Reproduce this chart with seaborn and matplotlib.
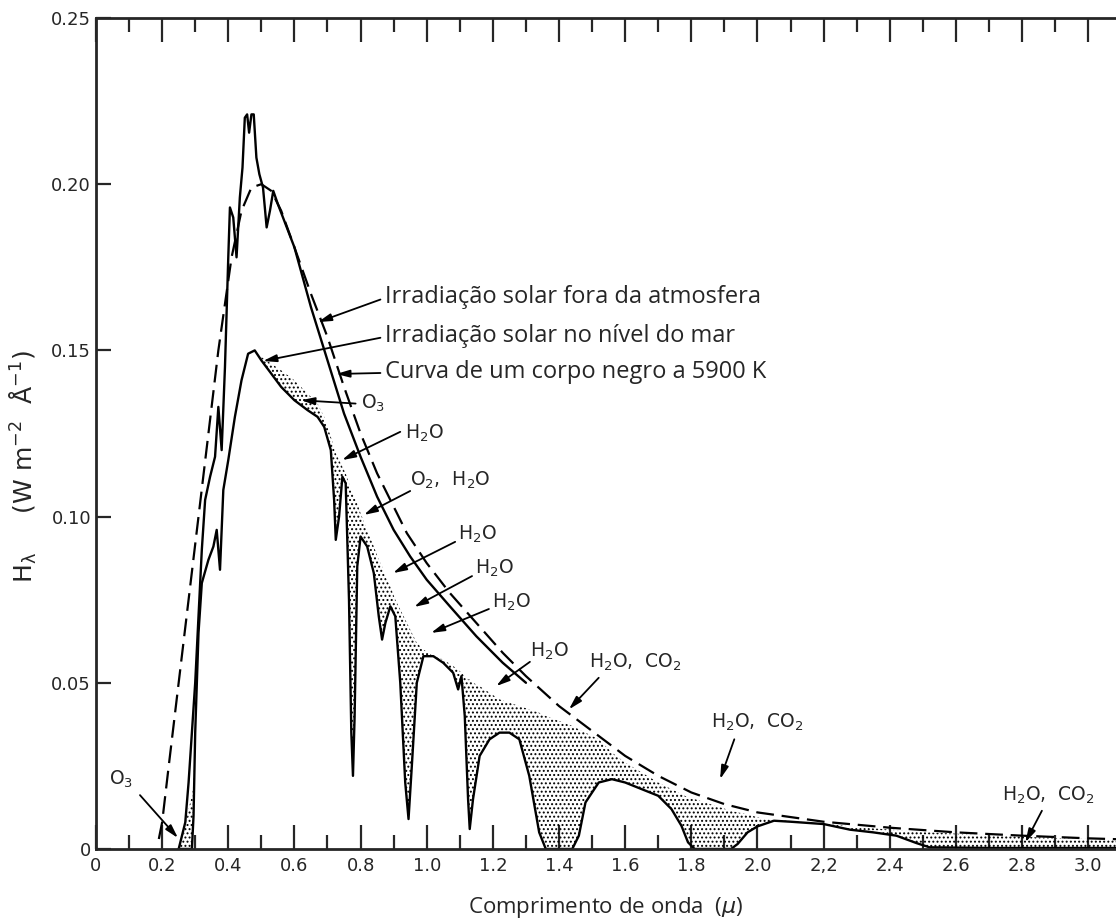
import matplotlib
matplotlib.use("Agg")
import matplotlib.pyplot as plt
import seaborn as sns
import numpy as np

# ---- valeurs (micron, W m-2 A-1) ----
# corps noir 5900 K (tirets)
bb_x = [0.19, 0.20, 0.22, 0.25, 0.28, 0.31, 0.34, 0.37, 0.41, 0.44, 0.47, 0.50,
        0.53, 0.56, 0.60, 0.65, 0.70, 0.75, 0.80, 0.85, 0.94, 1.00, 1.07, 1.15,
        1.23, 1.30, 1.40, 1.52, 1.60, 1.70, 1.80, 1.90, 2.00, 2.20, 2.40, 2.60,
        2.80, 3.00, 3.10]
bb_y = [0.003, 0.008, 0.025, 0.050, 0.075, 0.100, 0.125, 0.150, 0.178, 0.192,
        0.199, 0.200, 0.198, 0.192, 0.181, 0.167, 0.154, 0.139, 0.125, 0.113,
        0.095, 0.086, 0.077, 0.068, 0.059, 0.052, 0.043, 0.034, 0.028, 0.022,
        0.017, 0.0135, 0.0110, 0.0082, 0.0064, 0.0050, 0.0040, 0.0032, 0.0029]

# irradiation hors atmosphère (trait plein)
ext_x = [0.25, 0.27, 0.28, 0.29, 0.30, 0.31, 0.32, 0.33, 0.345, 0.36, 0.37,
         0.38, 0.39, 0.40, 0.405, 0.415, 0.425, 0.435, 0.443, 0.45, 0.457,
         0.463, 0.47, 0.477, 0.485, 0.494, 0.505, 0.516, 0.526, 0.536, 0.55,
         0.60, 0.65, 0.70, 0.75, 0.80, 0.85, 0.90, 0.95, 1.00, 1.07, 1.15,
         1.23, 1.30]
ext_y = [0.0, 0.008, 0.02, 0.035, 0.05, 0.07, 0.09, 0.105, 0.112, 0.118, 0.133,
         0.12, 0.145, 0.178, 0.193, 0.19, 0.178, 0.196, 0.205, 0.22, 0.221,
         0.2155, 0.221, 0.221, 0.208, 0.203, 0.199, 0.187, 0.192, 0.198, 0.194,
         0.181, 0.163, 0.147, 0.131, 0.118, 0.106, 0.096, 0.088, 0.081, 0.073,
         0.064, 0.056, 0.050]

# irradiation au niveau de la mer (trait plein inférieur)
sea_x = [0.25, 0.26, 0.27, 0.28, 0.29, 0.295, 0.30, 0.31, 0.32, 0.34, 0.355,
         0.365, 0.375, 0.385, 0.40, 0.42, 0.44, 0.46, 0.48, 0.50, 0.53, 0.56,
         0.60, 0.64, 0.67, 0.69, 0.71, 0.72, 0.725, 0.735, 0.745, 0.755, 0.765,
         0.772, 0.777, 0.782, 0.79, 0.80, 0.82, 0.84, 0.855, 0.865, 0.875,
         0.89, 0.905, 0.92, 0.935, 0.945, 0.955, 0.97, 0.99, 1.02, 1.05, 1.08,
         1.095, 1.105, 1.115, 1.125, 1.13, 1.14, 1.16, 1.19, 1.22, 1.25, 1.28,
         1.31, 1.34, 1.36, 1.44, 1.46, 1.48, 1.52, 1.56, 1.60, 1.65, 1.70,
         1.74, 1.77, 1.79, 1.81, 1.92, 1.94, 1.97, 2.00, 2.05, 2.10, 2.20,
         2.28, 2.35, 2.42, 2.48, 2.52, 2.70, 2.90, 3.10]
sea_y = [0.0, 0.0, 0.0, 0.0, 0.0, 0.01, 0.035, 0.065, 0.08, 0.087, 0.091,
         0.096, 0.084, 0.108, 0.117, 0.13, 0.141, 0.149, 0.150, 0.147, 0.143,
         0.139, 0.135, 0.132, 0.130, 0.127, 0.120, 0.105, 0.093, 0.100, 0.112,
         0.110, 0.075, 0.035, 0.022, 0.040, 0.085, 0.094, 0.091, 0.083, 0.070,
         0.063, 0.068, 0.073, 0.070, 0.050, 0.020, 0.009, 0.025, 0.050, 0.058,
         0.058, 0.056, 0.053, 0.048, 0.052, 0.040, 0.015, 0.006, 0.015, 0.028,
         0.033, 0.035, 0.035, 0.033, 0.022, 0.005, 0.0, 0.0, 0.004, 0.014,
         0.020, 0.021, 0.020, 0.018, 0.016, 0.012, 0.007, 0.002, 0.0, 0.0,
         0.0015, 0.005, 0.0068, 0.0085, 0.0082, 0.0075, 0.0058, 0.005, 0.004,
         0.0018, 0.0005, 0.0003, 0.0003, 0.0003]
# limite haute de la zone pointillée (absorption), mêmes abscisses que sea_x
abs_top = [0.0, 0.003, 0.007, 0.012, 0.016, 0.02, 0.035, 0.065, 0.08, 0.087,
           0.091, 0.096, 0.084, 0.108, 0.117, 0.13, 0.141, 0.149, 0.150, 0.148,
           0.146, 0.144, 0.141, 0.137, 0.134, 0.130, 0.124, 0.121, 0.119, 0.117,
           0.115, 0.113, 0.110, 0.108, 0.107, 0.106, 0.104, 0.101, 0.096, 0.091,
           0.087, 0.085, 0.082, 0.079, 0.075, 0.072, 0.069, 0.067, 0.065, 0.062,
           0.060, 0.058, 0.057, 0.055, 0.054, 0.053, 0.052, 0.051, 0.051, 0.050,
           0.049, 0.047, 0.045, 0.044, 0.043, 0.042, 0.041, 0.040, 0.037, 0.036,
           0.035, 0.033, 0.029, 0.026, 0.023, 0.020, 0.018, 0.0165, 0.0155,
           0.015, 0.0115, 0.011, 0.0105, 0.0095, 0.0088, 0.0084, 0.0076, 0.0068,
           0.0062, 0.0057, 0.0052, 0.005, 0.0041, 0.0033, 0.0027]

x_ticks = [0, 0.2, 0.4, 0.6, 0.8, 1.0, 1.2, 1.4, 1.6, 1.8, 2.0, 2.2, 2.4, 2.6, 2.8, 3.0]
x_tick_labels = ["0", "0.2", "0.4", "0.6", "0.8", "1.0", "1.2", "1.4", "1.6",
                 "1.8", "2.0", "2,2", "2.4", "2.6", "2.8", "3.0"]
y_ticks = [0, 0.05, 0.10, 0.15, 0.20, 0.25]
y_tick_labels = ["0", "0.05", "0.10", "0.15", "0.20", "0.25"]

sns.set_style("ticks")
plt.rcParams["font.family"] = ["DejaVu Sans"]
plt.rcParams["hatch.linewidth"] = 0.9

fig = plt.figure(figsize=(11.16, 9.23), dpi=100)
ax = fig.add_axes([0.086, 0.0802, 0.914, 0.9003])

# zone pointillée
ax.fill_between(sea_x, sea_y, abs_top, facecolor="none", edgecolor="black",
                hatch="....", linewidth=0)

sns.lineplot(x=bb_x, y=bb_y, ax=ax, color="black", lw=1.6, estimator=None,
             linestyle=(0, (8, 3.5)))
sns.lineplot(x=ext_x, y=ext_y, ax=ax, color="black", lw=1.7, estimator=None)
sns.lineplot(x=sea_x, y=sea_y, ax=ax, color="black", lw=1.7, estimator=None)

ax.set_xlim(0, 3.084)
ax.set_ylim(0, 0.25)
ax.set_xticks(x_ticks)
ax.set_xticklabels(x_tick_labels)
ax.set_xticks(np.arange(0.1, 3.1, 0.2), minor=True)
ax.set_yticks(y_ticks)
ax.set_yticklabels(y_tick_labels)
ax.tick_params(axis="x", which="major", direction="in", length=17, width=1.6,
               top=True, labelsize=13, pad=6)
ax.tick_params(axis="x", which="minor", direction="in", length=10, width=1.6,
               top=True)
ax.tick_params(axis="y", direction="in", length=11, width=1.6, labelsize=13)
for s in ["left", "bottom", "top"]:
    ax.spines[s].set_linewidth(2)
ax.spines["right"].set_visible(False)

ax.set_xlabel("Comprimento de onda  ($\\mu$)", fontsize=16, family="Open Sans",
              labelpad=14)
ax.set_ylabel("$\\mathrm{H_\\lambda}$     (W m$^{-2}$  $\\mathrm{\\AA}^{-1}$)",
              fontsize=18)
ax.yaxis.set_label_coords(-0.056, 0.46)

arrow = dict(arrowstyle="-|>,head_length=0.8,head_width=0.22", color="black",
             lw=1.3, shrinkA=0, shrinkB=0)

# légendes des courbes
courbes = [
    ("Irradiação solar fora da atmosfera", (0.874, 0.166), (0.86, 0.1653), (0.671, 0.1585)),
    ("Irradiação solar no nível do mar", (0.874, 0.1543), (0.86, 0.1538), (0.505, 0.1468)),
    ("Curva de um corpo negro a 5900 K", (0.874, 0.1435), (0.86, 0.1432), (0.726, 0.1429)),
]
for txt, pos, tail, tip in courbes:
    ax.text(pos[0], pos[1], txt, fontsize=17, family="Open Sans", va="center")
    ax.annotate("", xy=tip, xytext=tail, arrowprops=arrow)

# absorbants
gaz = [
    ("O$_3$", (0.80, 0.134), (0.785, 0.134), (0.62, 0.135)),
    ("H$_2$O", (0.934, 0.125), (0.92, 0.1255), (0.744, 0.117)),
    ("O$_2$,  H$_2$O", (0.95, 0.111), (0.95, 0.1077), (0.81, 0.1005)),
    ("H$_2$O", (1.095, 0.0948), (1.086, 0.0924), (0.898, 0.083)),
    ("H$_2$O", (1.146, 0.0845), (1.137, 0.0821), (0.962, 0.0728)),
    ("H$_2$O", (1.197, 0.0743), (1.188, 0.0722), (1.013, 0.065)),
    ("H$_2$O", (1.312, 0.0594), (1.312, 0.0563), (1.21, 0.049)),
    ("H$_2$O,  CO$_2$", (1.49, 0.056), (1.52, 0.0515), (1.43, 0.042)),
    ("H$_2$O,  CO$_2$", (1.86, 0.038), (1.93, 0.033), (1.887, 0.021)),
    ("H$_2$O,  CO$_2$", (2.74, 0.0162), (2.86, 0.0115), (2.81, 0.002)),
    ("O$_3$", (0.04, 0.021), (0.133, 0.0162), (0.248, 0.0033)),
]
for txt, pos, tail, tip in gaz:
    ax.text(pos[0], pos[1], txt, fontsize=13.5, va="center")
    ax.annotate("", xy=tip, xytext=tail, arrowprops=arrow)

plt.savefig("out.png", dpi=100)
